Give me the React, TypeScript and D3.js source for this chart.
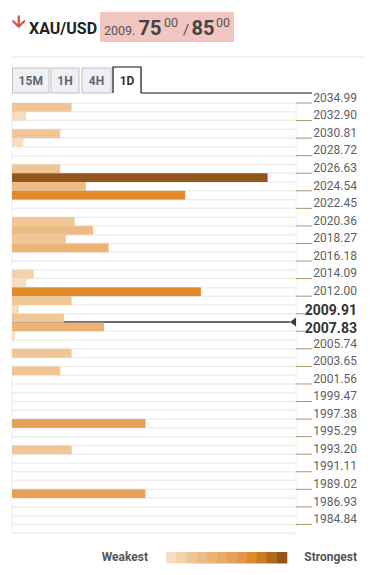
import React from "react";
import * as d3 from "d3";

const tickLabels = [
  "2034.99", "2032.90", "2030.81", "2028.72", "2026.63", "2024.54", "2022.45",
  "2020.36", "2018.27", "2016.18", "2014.09", "2012.00", "2009.91", "2007.83",
  "2005.74", "2003.65", "2001.56", "1999.47", "1997.38", "1995.29", "1993.20",
  "1991.11", "1989.02", "1986.93", "1984.84",
];
const boldLabels = ["2009.91", "2007.83"];

// strength per price row (2 rows per tick interval, 49 rows, top = highest price)
const rowStrength = [
  21, 5, 0, 17, 4, 0, 0, 17, 90, 26, 61, 0, 0, 22, 28.5, 19, 34, 0, 0, 7.6,
  5, 66.5, 21, 2.4, 18.3, 32.4, 1, 0, 21, 0, 17, 0, 0, 0, 0, 0, 47, 0, 0, 21,
  0, 0, 0, 0, 47, 0, 0, 0, 0,
];

const legendColors = [
  "#f6dcc0", "#f3d1ab", "#f0c697", "#edbc85", "#ebb376", "#e9aa67",
  "#e6a158", "#e39648", "#e08a2c", "#c97a22", "#b06a1d", "#93561a",
];

const timeframes = ["15M", "1H", "4H", "1D"];
const activeTimeframe = "1D";
const symbol = "XAU/USD";
const bidPrice = 2009.75;
const askPrice = 2009.85;

const W = 377;
const H = 575;
const plotLeft = 12;
const plotRight = 296;
const plotTop = 103;
const rowH = 8.78;

export default function App() {
  const nRows = rowStrength.length;
  const yBand = d3
    .scaleBand<number>()
    .domain(d3.range(nRows))
    .range([plotTop, plotTop + nRows * rowH])
    .padding(0);
  const x = d3.scaleLinear().domain([0, 100]).range([plotLeft, plotLeft + 284]);
  const color = d3
    .scaleQuantize<string>()
    .domain([0, d3.max(rowStrength) as number])
    .range(legendColors);

  const priceTop = parseFloat(tickLabels[0]);
  const priceBottom = parseFloat(tickLabels[tickLabels.length - 1]);
  const rowStep = (priceTop - priceBottom) / (nRows - 1);
  const mid = (bidPrice + askPrice) / 2;
  const curRow = Math.floor((priceTop - mid) / rowStep);
  const curY = (yBand(curRow) as number) + yBand.bandwidth() - 0.5;

  const legendX = d3
    .scaleBand<number>()
    .domain(d3.range(legendColors.length))
    .range([166, 287])
    .padding(0);

  const [bidInt, bidDec] = bidPrice.toFixed(2).split(".");
  const askDec = askPrice.toFixed(2).split(".")[1];

  const tabX = [12.5, 51, 82, 113];
  const tabW = [36.5, 28, 29, 28];

  return (
    <svg
      width={W}
      height={H}
      style={{ position: "absolute", left: 0, top: 0, background: "#fff" }}
      fontFamily="Roboto, sans-serif"
    >
      {/* header */}
      <path
        d="M18.7,16.5 V26.5 M13.2,21.2 L18.7,26.7 L24.2,21.2"
        stroke="#e0523f"
        strokeWidth={2.3}
        fill="none"
        strokeLinecap="round"
        strokeLinejoin="round"
      />
      <text x={29} y={34} fontSize={16} fontWeight={700} fill="#222">
        {symbol}
      </text>
      <rect x={100} y={12} width={134} height={30} fill="#f2c5c1" />
      <text x={104} y={35} fontSize={12.5} fill="#555">
        {bidInt}.
      </text>
      <text x={138.5} y={35} fontSize={20} fontWeight={700} fill="#444">
        {bidDec}
      </text>
      <text x={164} y={27} fontSize={12.5} fill="#555">
        00
      </text>
      <text x={183} y={35} fontSize={15} fill="#555">
        /
      </text>
      <text x={191.5} y={35} fontSize={20} fontWeight={700} fill="#444">
        {askDec}
      </text>
      <text x={216} y={27} fontSize={12.5} fill="#555">
        00
      </text>
      <line x1={12} x2={365} y1={57} y2={57} stroke="#e8e8e8" strokeWidth={1} />

      {/* tabs */}
      {timeframes.map((tf, i) => {
        const active = tf === activeTimeframe;
        return (
          <g key={tf}>
            {active ? (
              <path
                d={`M${tabX[i]},93 V67 H${tabX[i] + tabW[i]} V93`}
                fill="#fff"
                stroke="#111"
                strokeWidth={1.2}
              />
            ) : (
              <rect
                x={tabX[i]}
                y={68}
                width={tabW[i]}
                height={25}
                fill="#eef0f5"
                stroke="#c2c2c2"
                strokeWidth={1}
              />
            )}
            <text
              x={tabX[i] + tabW[i] / 2}
              y={85}
              textAnchor="middle"
              fontSize={12}
              fontWeight={700}
              fill={active ? "#333" : "#666"}
            >
              {tf}
            </text>
          </g>
        );
      })}
      <line x1={141} x2={312} y1={93} y2={93} stroke="#111" strokeWidth={1.2} />

      {/* grid */}
      {d3.range(nRows + 1).map((r) => {
        const yy = plotTop + r * rowH;
        return (
          <line
            key={"g" + r}
            x1={plotLeft}
            x2={plotRight}
            y1={yy}
            y2={yy}
            stroke="#eeeeee"
            strokeWidth={1.5}
          />
        );
      })}
      <line x1={plotLeft} x2={plotLeft} y1={plotTop} y2={plotTop + nRows * rowH} stroke="#eeeeee" />
      <line x1={plotRight} x2={plotRight} y1={plotTop} y2={plotTop + nRows * rowH} stroke="#f2f2f2" />

      {/* current price line */}
      <line x1={plotLeft} x2={290} y1={curY} y2={curY} stroke="#2f3d4c" strokeWidth={1.3} />
      <path
        d={`M290,${curY} L296,${curY - 4.5} L296,${curY + 4.5} Z`}
        fill="#2f3d4c"
      />

      {/* bars */}
      {rowStrength.map((v, i) =>
        v > 0 ? (
          <rect
            key={"b" + i}
            x={plotLeft}
            y={yBand(i) as number}
            width={x(v) - plotLeft}
            height={yBand.bandwidth()}
            fill={color(v)}
          />
        ) : null
      )}

      {/* axis */}
      {tickLabels.map((lab, i) => {
        const ty = yBand(i * 2) as number;
        const bold = boldLabels.includes(lab);
        return (
          <g key={lab}>
            <line
              x1={296}
              x2={bold ? 305 : 312}
              y1={ty}
              y2={ty}
              stroke="#b0946a"
              strokeWidth={1}
            />
            <text
              x={357}
              y={bold ? ty + 1.5 : ty - 1.3}
              textAnchor="end"
              fontSize={bold ? 14 : 12}
              fontWeight={bold ? 700 : 400}
              fill={bold ? "#333" : "#5f5f5f"}
            >
              {lab}
            </text>
          </g>
        );
      })}

      {/* legend */}
      <text x={148} y={561} textAnchor="end" fontSize={12} fontWeight={700} fill="#555">
        Weakest
      </text>
      {legendColors.map((c, i) => (
        <rect
          key={c}
          x={legendX(i) as number}
          y={552}
          width={legendX.bandwidth() + 0.3}
          height={11.5}
          fill={c}
        />
      ))}
      <text x={357} y={561} textAnchor="end" fontSize={12} fontWeight={700} fill="#555">
        Strongest
      </text>
    </svg>
  );
}
